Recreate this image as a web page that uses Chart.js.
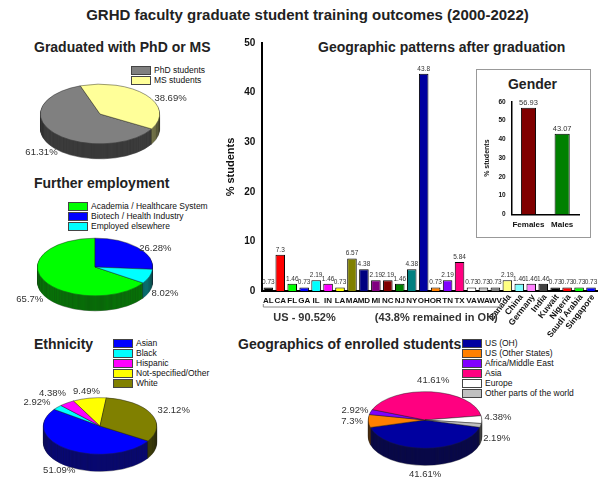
<!DOCTYPE html>
<html><head><meta charset="utf-8">
<script src="https://cdn.jsdelivr.net/npm/chart.js@4.4.1/dist/chart.umd.min.js"></script>
<style>
body{margin:0;width:615px;height:481px;position:relative;background:#fff;font-family:Arial,"Liberation Sans",sans-serif;overflow:hidden}
.t{position:absolute;font-weight:bold;color:#222;white-space:nowrap}
canvas{position:absolute}
.leg{position:absolute;font-size:8.5px;color:#111;line-height:10px}
.leg div{display:flex;align-items:center;height:10px}
.leg span{display:inline-block;width:20px;height:9px;border:1px solid #444;margin-right:3px;box-sizing:border-box}
</style></head><body>
<div class="t" style="left:0;width:615px;top:6px;text-align:center;font-size:15px">GRHD faculty graduate student training outcomes (2000-2022)</div>
<div class="t" style="left:34px;top:39px;font-size:14px">Graduated with PhD or MS</div>
<div class="t" style="left:34px;top:175px;font-size:14px">Further employment</div>
<div class="t" style="left:34px;top:336px;font-size:14px">Ethnicity</div>
<div class="t" style="left:238px;top:336px;font-size:14px">Geographics of enrolled students</div>
<div class="t" style="left:318px;top:39px;font-size:14px">Geographic patterns after graduation</div>
<div id="legs"></div>
<canvas id="bar" style="left:220px;top:30px" width="390" height="320"></canvas>
<div style="position:absolute;left:476px;top:69px;width:113px;height:167px;background:#fff;border:1px solid #999"></div>
<div class="t" style="left:476px;top:76px;width:113px;text-align:center;font-size:14px">Gender</div>
<canvas id="gen" style="left:477px;top:95px" width="110" height="140"></canvas>
<canvas id="p1" width="220" height="200"></canvas>
<canvas id="p2" width="220" height="200"></canvas>
<canvas id="p3" width="220" height="200"></canvas>
<canvas id="p4" width="220" height="200"></canvas>
<script>
// ---- data ----
const gradLabels=["PhD students","MS students"];
const gradValues=[61.31,38.69];
const gradColors=["#808080","#ffff99"];
const empLabels=["Academia / Healthcare System","Biotech / Health Industry","Employed elsewhere"];
const empValues=[65.7,26.28,8.02];
const empColors=["#00ff00","#0000ff","#00ffff"];
const ethLabels=["Asian","Black","Hispanic","Not-specified/Other","White"];
const ethValues=[51.09,2.92,4.38,9.49,32.12];
const ethColors=["#0000ff","#00ffff","#ff00ff","#ffff00","#808000"];
const geoLabels=["US (OH)","US (Other States)","Africa/Middle East","Asia","Europe","Other parts of the world"];
const geoValues=[41.61,7.3,2.92,41.61,4.38,2.19];
const geoColors=["#0000a0","#ff8000","#8000ff","#ff0080","#ffffff","#c0c0c0"];
const destLabels=["AL","CA","FL","GA","IL","IN","LA","MA","MD","MI","NC","NJ","NY","OH","OR","TN","TX","VA","WA","WV","Canada","China","Germany","India","Kuwait","Nigeria","Saudi Arabia","Singapore"];
const destValues=[0.73,7.3,1.46,0.73,2.19,1.46,0.73,6.57,4.38,2.19,2.19,1.46,4.38,43.8,0.73,2.19,5.84,0.73,0.73,0.73,2.19,1.46,1.46,1.46,0.73,0.73,0.73,0.73];
const destColors=["#000000","#ff0000","#00ff00","#0000ff","#00ffff","#ff00ff","#ffff00","#808000","#000080","#800080","#800000","#008000","#008080","#0000a0","#ff8000","#8000ff","#ff0080","#ffffff","#c0c0c0","#808080","#ffff80","#80ffff","#ff80ff","#404040","#000000","#ff0000","#00ff00","#0000ff"];
const yTicks=[0,10,20,30,40,50];
const genLabels=["Females","Males"];
const genValues=[56.93,43.07];
const genColors=["#800000","#008000"];

// legends
function legend(x,y,labels,colors){
  const d=document.createElement('div');d.className='leg';d.style.left=x+'px';d.style.top=y+'px';
  labels.forEach((l,i)=>{d.innerHTML+=`<div><span style="background:${colors[i]}"></span>${l}</div>`});
  document.getElementById('legs').appendChild(d);
}
legend(131,65,gradLabels,gradColors);
legend(68,201,empLabels,empColors);
legend(113,338,ethLabels,ethColors);
legend(462,338,geoLabels,geoColors);

// 3D pie
const SQ=0.5;
function pie(id,cx,cy,r,depth,vals,cols,rot,lblOff){
  const c=document.getElementById(id);c.style.left=(cx-110)+'px';c.style.top=(cy-100)+'px';
  const pad=100-r;
  const plug={id:'p3d',
    beforeDatasetsDraw(ch){
      const ctx=ch.ctx,a=ch.getDatasetMeta(0).data;
      for(let d=depth;d>=1;d--){
        ctx.save();ctx.translate(0,d);ctx.translate(110,100);ctx.scale(1,SQ);ctx.translate(-110,-100);
        ctx.filter='brightness(0.65)';a.forEach(e=>e.draw(ctx));ctx.restore();
      }
      ctx.save();ctx.translate(110,100);ctx.scale(1,SQ);ctx.translate(-110,-100);
    },
    afterDatasetsDraw(ch){
      const ctx=ch.ctx;ctx.restore();
      ctx.save();ctx.font='9.5px Arial';ctx.fillStyle='#333';ctx.textAlign='center';ctx.textBaseline='middle';
      ch.getDatasetMeta(0).data.forEach((e,i)=>{
        const m=(e.startAngle+e.endAngle)/2;const o=lblOff[i]||[0,0];
        let x=110+(r+16)*Math.cos(m),y=100+(r+14)*Math.sin(m)*SQ;
        if(Math.sin(m)>0.2)y+=depth;
        ctx.fillText(vals[i].toFixed(2).replace(/0$/,'').replace(/\.0$/,'')+'%',x+o[0],y+o[1]);
      });ctx.restore();
    }};
  new Chart(c,{type:'pie',data:{datasets:[{data:vals,backgroundColor:cols,borderColor:'#222',borderWidth:0.6}]},
    options:{responsive:false,animation:false,rotation:rot,layout:{padding:{left:10,right:10,top:pad,bottom:pad}},
      plugins:{legend:{display:false},tooltip:{enabled:false}}},plugins:[plug]});
}
pie('p1',100,114,60,15,gradValues,gradColors,120,[[0,0],[12,8]]);
pie('p2',95,267,58,15,empValues,empColors,-236.5,[[0,0],[6,6],[0,0]]);
pie('p3',100,426,57,17,ethValues,ethColors,122,[[0,-2],[-8,0],[-5,-4],[0,0],[8,0]]);
pie('p4',425,420,57,17,geoValues,geoColors,105,[[0,2],[0,0],[0,0],[0,-4],[0,-2],[0,12]]);

// bar chart
const barPlug={id:'bl',afterDatasetsDraw(ch){
  const ctx=ch.ctx,x=ch.scales.x,y=ch.scales.y;ctx.save();
  ctx.fillStyle='#333';ctx.font='6.5px Arial';ctx.textAlign='center';
  ch.getDatasetMeta(0).data.forEach((b,i)=>{ctx.fillText(String(destValues[i]),b.x,b.y-3)});
  ctx.fillStyle='#111';ctx.font='bold 8px Arial';
  destLabels.forEach((l,i)=>{const px=x.getPixelForValue(i);
    if(i<20){ctx.textAlign='center';ctx.fillText(l,px,y.bottom+12);}
    else{ctx.save();ctx.translate(px+4,y.bottom+6);ctx.rotate(-52*Math.PI/180);ctx.textAlign='right';ctx.font='bold 8.5px Arial';ctx.fillText(l,0,0);ctx.restore();}
  });
  const x0=x.getPixelForValue(0)-5,x1=x.getPixelForValue(19)+5,by=y.bottom+16;
  ctx.strokeStyle='#888';ctx.lineWidth=1;ctx.beginPath();ctx.moveTo(x0,by-3);ctx.lineTo(x0,by);ctx.lineTo(x1,by);ctx.lineTo(x1,by-3);ctx.stroke();
  ctx.font='bold 11px Arial';ctx.fillStyle='#333';ctx.textAlign='left';
  ctx.fillText('US - 90.52%',x.getPixelForValue(0)+5,by+14);
  ctx.fillText('(43.8% remained in OH)',x.getPixelForValue(9)-1,by+14);
  ctx.restore();}};
new Chart(document.getElementById('bar'),{type:'bar',
  data:{labels:destLabels,datasets:[{data:destValues,backgroundColor:destColors,borderColor:'#000',borderWidth:1,barPercentage:0.8,categoryPercentage:1}]},
  options:{responsive:false,animation:false,layout:{padding:{top:13,right:13,bottom:59,left:0}},
    plugins:{legend:{display:false},tooltip:{enabled:false}},
    scales:{x:{ticks:{display:false},grid:{display:false,drawTicks:false},border:{color:'#000',width:2}},
      y:{min:0,max:50,afterBuildTicks(s){s.ticks=yTicks.map(v=>({value:v}))},
        ticks:{color:'#111',font:{weight:'bold',size:10}},grid:{display:false,tickLength:4,tickColor:'#000'},border:{color:'#000',width:2},
        title:{display:true,text:'% students',color:'#111',font:{weight:'bold',size:11}}}}},plugins:[barPlug]});

// gender inset
const genPlug={id:'gl',afterDatasetsDraw(ch){const ctx=ch.ctx;ctx.save();ctx.font='7.5px Arial';ctx.fillStyle='#333';ctx.textAlign='center';
  ch.getDatasetMeta(0).data.forEach((b,i)=>ctx.fillText(genValues[i].toFixed(2),b.x,b.y-3));ctx.restore();}};
new Chart(document.getElementById('gen'),{type:'bar',
  data:{labels:genLabels,datasets:[{data:genValues,backgroundColor:genColors,borderColor:'#000',borderWidth:1,barPercentage:0.45,categoryPercentage:1}]},
  options:{responsive:false,animation:false,layout:{padding:{top:4,right:8,left:2,bottom:2}},
    plugins:{legend:{display:false},tooltip:{enabled:false}},
    scales:{x:{ticks:{color:'#111',font:{weight:'bold',size:8},maxRotation:0,minRotation:0,autoSkip:false},grid:{display:false,tickLength:3},border:{color:'#000',width:1.5}},
      y:{min:0,max:60,ticks:{stepSize:10,color:'#111',font:{weight:'bold',size:6.5}},grid:{display:false,tickLength:3,tickColor:'#000'},border:{color:'#000',width:1.5},
        title:{display:true,text:'% students',color:'#111',font:{weight:'bold',size:7}}}}},plugins:[genPlug]});
</script></body></html>
